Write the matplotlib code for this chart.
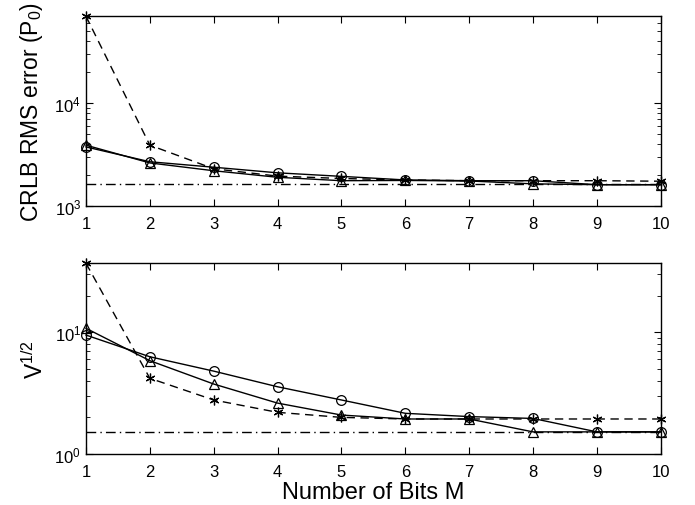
import numpy as np
import matplotlib
matplotlib.use("Agg")
import matplotlib.pyplot as plt
from matplotlib.ticker import LogLocator, NullFormatter

plt.rcParams['font.family'] = ['Liberation Sans', 'DejaVu Sans']
plt.rcParams['mathtext.fontset'] = 'custom'
plt.rcParams['mathtext.rm'] = 'Liberation Sans'

bits = [1, 2, 3, 4, 5, 6, 7, 8, 9, 10]

# top panel: CRLB RMS error (P0)
crlb_circle = [3750, 2690, 2380, 2100, 1940, 1790, 1760, 1760, 1610, 1610]
crlb_triangle = [3900, 2620, 2200, 1900, 1760, 1770, 1750, 1640, 1610, 1610]
crlb_star = [70000, 3900, 2300, 1950, 1850, 1790, 1760, 1760, 1760, 1740]
crlb_bound = 1620

# bottom panel: V^(1/2)
v_circle = [9.5, 6.3, 4.8, 3.57, 2.78, 2.16, 2.03, 1.96, 1.52, 1.52]
v_triangle = [10.8, 5.85, 3.76, 2.62, 2.09, 1.94, 1.94, 1.52, 1.52, 1.52]
v_star = [37, 4.19, 2.78, 2.2, 2.0, 1.94, 1.94, 1.94, 1.94, 1.94]
v_bound = 1.52

fig = plt.figure(figsize=(6.95, 5.06), dpi=100)
ax1 = fig.add_axes([0.1237, 0.591, 0.827, 0.375])
ax2 = fig.add_axes([0.1237, 0.1008, 0.827, 0.377])

mk = dict(color='black', lw=1.0, ms=7, mfc='none', mew=0.9)
asterisk = (6, 2, 0)


def draw(ax, circ, tri, star, bound, ylim):
    ax.plot(bits, circ, '-', marker='o', clip_on=False, **mk)
    ax.plot(bits, tri, '-', marker='^', clip_on=False, **mk)
    ax.plot(bits, star, '--', marker=asterisk, dashes=(6, 4),
            clip_on=False, **mk)
    ax.axhline(bound, color='black', lw=1.0, ls=(0, (7, 3, 1, 3)))
    ax.set_yscale('log')
    ax.set_xlim(1, 10)
    ax.set_ylim(*ylim)
    ax.set_xticks(bits)
    ax.yaxis.set_major_locator(LogLocator(base=10))
    ax.yaxis.set_minor_locator(LogLocator(base=10, subs=np.arange(2, 10)))
    ax.yaxis.set_minor_formatter(NullFormatter())
    ax.tick_params(which='both', direction='in', top=True, right=True,
                   labelsize=12)
    ax.tick_params(axis='x', pad=7)
    ax.tick_params(which='major', length=5)
    ax.tick_params(which='minor', length=3)
    for s in ax.spines.values():
        s.set_linewidth(1.0)


draw(ax1, crlb_circle, crlb_triangle, crlb_star, crlb_bound, (1e3, 7e4))
draw(ax2, v_circle, v_triangle, v_star, v_bound, (1, 37))

ax1.set_ylabel('CRLB RMS error (P$_0$)', fontsize=16.5)
ax1.yaxis.set_label_coords(-0.072, 0.5)
ax2.set_ylabel('V$^{1/2}$', fontsize=16.5)
ax2.yaxis.set_label_coords(-0.066, 0.5)
ax2.set_xlabel('Number of Bits M', fontsize=17, labelpad=2)

fig.savefig('out.png', dpi=100)
